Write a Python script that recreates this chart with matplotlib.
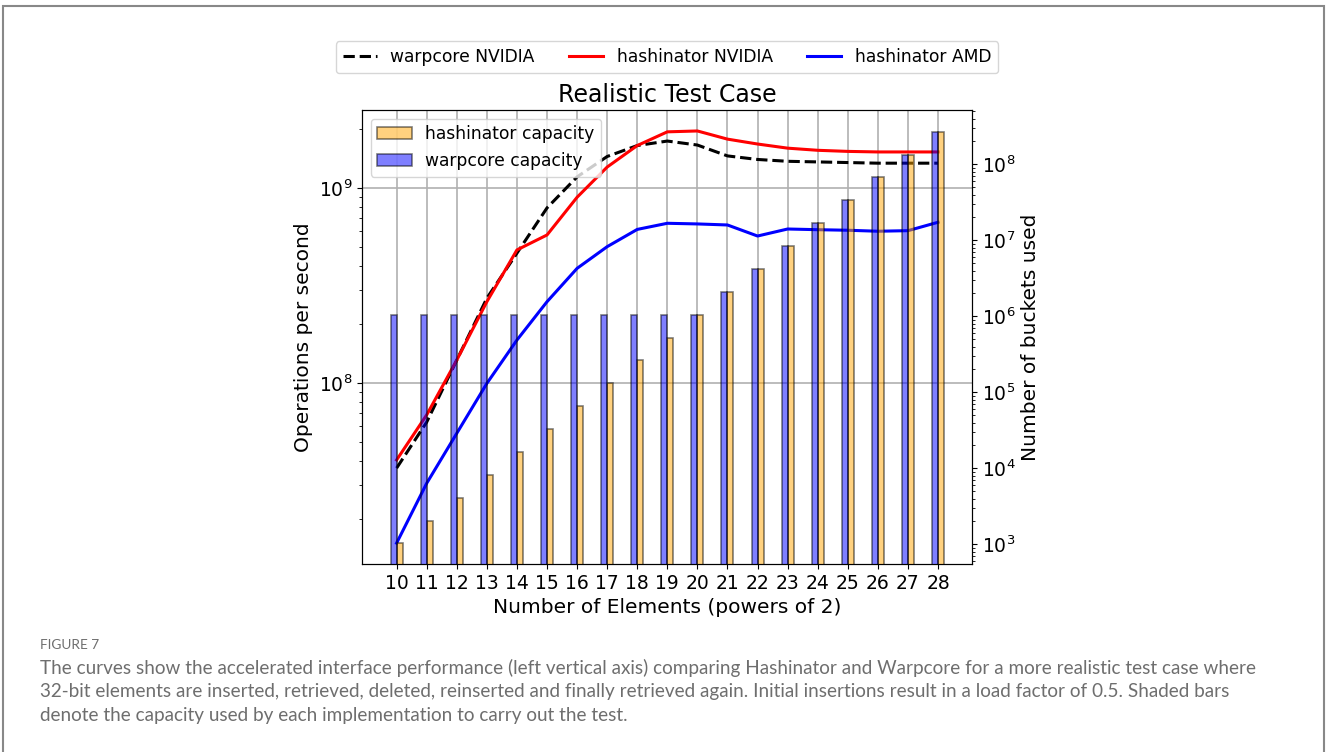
import matplotlib.pyplot as plt
from matplotlib.patches import Rectangle

# x positions (powers of 2)
exponents = [10, 11, 12, 13, 14, 15, 16, 17, 18, 19, 20, 21, 22, 23, 24, 25, 26, 27, 28]

# operations per second (left axis)
warpcore_nvidia = [3.66e7, 6.3e7, 1.31e8, 2.72e8, 4.63e8, 7.9e8, 1.14e9, 1.45e9, 1.65e9, 1.74e9,
                   1.66e9, 1.46e9, 1.40e9, 1.37e9, 1.36e9, 1.35e9, 1.34e9, 1.34e9, 1.34e9]
hashinator_nvidia = [4.03e7, 6.86e7, 1.31e8, 2.61e8, 4.81e8, 5.74e8, 8.96e8, 1.28e9, 1.65e9, 1.94e9,
                     1.96e9, 1.78e9, 1.68e9, 1.60e9, 1.56e9, 1.54e9, 1.53e9, 1.53e9, 1.53e9]
hashinator_amd = [1.51e7, 3.06e7, 5.52e7, 9.95e7, 1.66e8, 2.61e8, 3.87e8, 5.0e8, 6.13e8, 6.59e8,
                  6.54e8, 6.46e8, 5.67e8, 6.16e8, 6.11e8, 6.07e8, 6.0e8, 6.04e8, 6.67e8]

# buckets used (right axis)
hashinator_capacity = [1024, 2048, 4096, 8192, 16384, 32768, 65536, 131072, 262144, 524288,
                       1048576, 2097152, 4194304, 8388608, 16777216, 33554432, 67108864,
                       134217728, 268435456]
warpcore_capacity = [1048576, 1048576, 1048576, 1048576, 1048576, 1048576, 1048576, 1048576,
                     1048576, 1048576, 1048576, 2097152, 4194304, 8388608, 16777216, 33554432,
                     67108864, 134217728, 268435456]

caption_title = "FIGURE 7"
caption_lines = [
    "The curves show the accelerated interface performance (left vertical axis) comparing Hashinator and Warpcore for a more realistic test case where",
    "32-bit elements are inserted, retrieved, deleted, reinserted and finally retrieved again. Initial insertions result in a load factor of 0.5. Shaded bars",
    "denote the capacity used by each implementation to carry out the test.",
]

fig = plt.figure(figsize=(13.27, 7.52), dpi=100)
ax1 = fig.add_axes([0.2728, 0.25, 0.4597, 0.6037])
ax2 = ax1.twinx()

ax1.plot(exponents, warpcore_nvidia, color='black', linestyle='--', linewidth=2.2, label='warpcore NVIDIA')
ax1.plot(exponents, hashinator_nvidia, color='red', linewidth=2.2, label='hashinator NVIDIA')
ax1.plot(exponents, hashinator_amd, color='blue', linewidth=2.2, label='hashinator AMD')
ax1.set_yscale('log')
ax1.set_ylim(1.18e7, 2.51e9)
ax1.set_xlim(8.85, 29.13)
ax1.set_xticks(exponents)
ax1.grid(True, which='major', color='#b0b0b0', linewidth=1.2)
ax1.tick_params(labelsize=13.5)
ax1.set_ylabel('Operations per second', fontsize=14.5)
ax1.set_xlabel('Number of Elements (powers of 2)', fontsize=14.5)
ax1.set_title('Realistic Test Case', fontsize=17, pad=6)
ax1.legend(loc='upper center', bbox_to_anchor=(0.5, 1.17), ncol=3, fontsize=12.3, frameon=True)

xb = [x - 0.1 for x in exponents]
xo = [x + 0.1 for x in exponents]
ax2.bar(xo, hashinator_capacity, width=0.2, color='orange', edgecolor='black', alpha=0.5,
        linewidth=1.2, label='hashinator capacity')
ax2.bar(xb, warpcore_capacity, width=0.2, color='blue', edgecolor='black', alpha=0.5,
        linewidth=1.2, label='warpcore capacity')
ax2.set_yscale('log')
ax2.set_ylim(550, 5.18e8)
ax2.tick_params(labelsize=13.5)
ax2.set_ylabel('Number of buckets used', fontsize=14.5)
ax2.legend(loc='upper left', fontsize=12.3)
ax2.set_xlim(8.85, 29.13)

# outer frame and caption
fig.patches.append(Rectangle((0.0025, -0.05), 0.9955, 1.0420, transform=fig.transFigure,
                             fill=False, edgecolor='#888888', linewidth=1.5))
fig.text(40 / 1327, 1 - 645 / 752, caption_title, fontsize=9.8, color='#6e6e6e',
         family='Lato', va='center')
for i, line in enumerate(caption_lines):
    fig.text(40 / 1327, 1 - (668 + 24 * i) / 752, line, fontsize=13.6, color='#6e6e6e',
             family='Lato', va='center')

fig.savefig('out.png', dpi=100)
